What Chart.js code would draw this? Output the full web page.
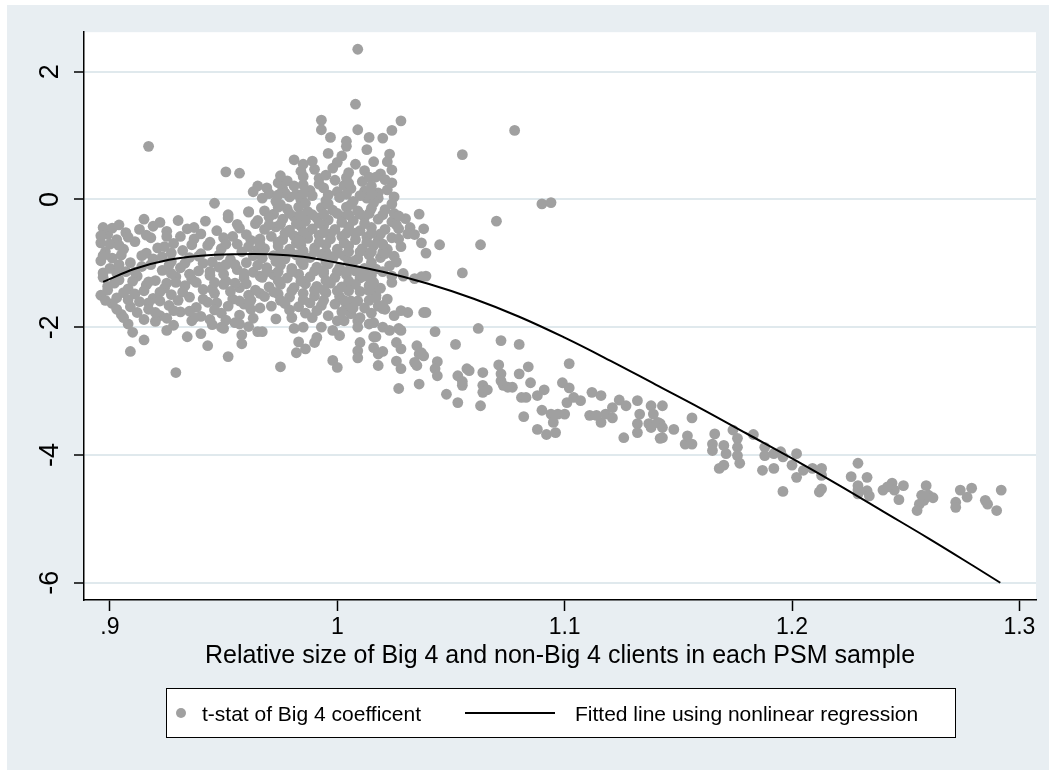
<!DOCTYPE html>
<html>
<head>
<meta charset="utf-8">
<script src="https://cdn.jsdelivr.net/npm/chart.js@4.4.1/dist/chart.umd.min.js"></script>
<style>
  html, body { margin: 0; padding: 0; background: #fff; }
  #wrap { position: absolute; left: 7px; top: 5px; width: 1042px; height: 765px; }
</style>
</head>
<body>
<div id="wrap"><canvas id="psmChart" width="1042" height="765"></canvas></div>
<script>
// t-stat of the Big 4 coefficient, one point per PSM sample: [relative size, t-stat]
var leftCluster = [
  [.897,-.44],[.904,-.40],[.915,-.31],[.922,-.36],[.930,-.33],[.942,-.34],[.952,-.29],[.961,-.20],
  [.899,-.55],[.907,-.52],[.913,-.47],[.925,-.50],[.934,-.46],[.947,-.49],[.957,-.45],[.964,-.38],
  [.896,-.68],[.903,-.63],[.911,-.66],[.918,-.60],[.928,-.69],[.937,-.62],[.944,-.67],[.954,-.58],[.962,-.64],
  [.898,-.82],[.906,-.78],[.916,-.84],[.921,-.76],[.932,-.80],[.940,-.85],[.949,-.77],[.958,-.82],[.965,-.79],
  [.896,-.96],[.901,-.92],[.909,-.99],[.919,-.93],[.927,-.97],[.935,-.91],[.945,-.98],[.953,-.94],[.960,-.99],
  [.900,-1.08],[.907,-1.13],[.914,-1.05],[.923,-1.11],[.931,-1.07],[.939,-1.12],[.948,-1.06],[.956,-1.10],[.963,-1.14],
  [.897,-1.22],[.904,-1.26],[.912,-1.20],[.920,-1.27],[.929,-1.21],[.936,-1.25],[.944,-1.19],[.951,-1.28],[.959,-1.23],[.966,-1.20],
  [.899,-1.36],[.908,-1.40],[.916,-1.34],[.924,-1.39],[.933,-1.35],[.941,-1.41],[.950,-1.33],[.957,-1.38],[.964,-1.42],
  [.896,-1.50],[.903,-1.54],[.911,-1.48],[.919,-1.55],[.927,-1.49],[.935,-1.53],[.946,-1.47],[.954,-1.56],[.961,-1.50],
  [.901,-1.63],[.909,-1.68],[.917,-1.62],[.926,-1.66],[.938,-1.69],[.943,-1.61],[.952,-1.67],[.959,-1.64],[.966,-1.70],
  [.905,-1.80],[.912,-1.77],[.922,-1.82],[.931,-1.76],[.940,-1.83],[.949,-1.78],[.957,-1.81],[.963,-1.86],
  [.908,-1.95],[.920,-1.91],[.928,-1.97],[.936,-1.90],[.945,-1.96],[.955,-1.93],[.961,-1.99],
  [.910,-2.08],[.925,-2.05],[.940,-2.10],[.950,-2.02],[.958,-2.12],[.965,-2.07],
  [.909,-2.38],[.915,-2.20],[.929,-2.71],[.934,-2.15],[.943,-2.29],[.952,-2.46],[.958,-2.26],
  [.946,-.06],[.951,.43],[.957,.41],[.952,-.24],[.898,-1.58],[.906,-1.85],[.920,-1.77],[.937,-1.85],[.957,-1.95],[.949,-2.00],
  [.900,-.70],[.914,-.88],[.925,-.58],[.933,-1.00],[.943,-.72],[.955,-1.02],[.910,-1.28],[.922,-1.45],[.938,-1.30],
  [.947,-1.62],[.960,-1.32],[.903,-1.15],[.917,-1.72],[.930,-1.58],[.945,-1.40],[.963,-.88],[.908,-.59],[.927,-.84],
  [.940,-.54],[.956,-.70],[.899,-1.42],[.913,-1.60],[.935,-1.75],[.950,-1.17],[.918,-1.02],[.929,-1.30],[.962,-1.58],
  [.901,-.45],[.919,-.42],[.937,-.44],[.956,-.39],
  [.896,-.57],[.916,-.56],[.931,-.58],[.950,-.60],[.960,-.55],
  [.904,-.72],[.924,-.74],[.936,-.71],[.951,-.70],[.961,-.74],
  [.897,-.88],[.905,-.87],[.923,-.90],[.939,-.89],[.948,-.87],
  [.904,-1.02],[.926,-1.03],[.941,-1.00],[.951,-1.02],[.965,-1.03],
  [.897,-1.15],[.911,-1.14],[.927,-1.16],[.935,-1.17],[.944,-1.13],[.959,-1.16],
  [.902,-1.31],[.917,-1.29],[.925,-1.31],[.946,-1.30],[.955,-1.31],
  [.906,-1.46],[.915,-1.43],[.932,-1.45],[.953,-1.44],[.966,-1.47],
  [.908,-1.57],[.922,-1.59],[.941,-1.56],[.957,-1.59],
  [.903,-1.72],[.928,-1.74],[.946,-1.73],[.962,-1.72],
  [.915,-1.88],[.925,-1.86],[.944,-1.88],[.951,-1.89]
];

var coreCluster = [
  [.984,.44],[.990,.47],[.998,.49],[1.005,.42],[1.012,.45],[1.019,.40],[1.024,.46],
  [.965,.21],[.969,.18],[.974,.26],[.978,.29],[.985,.36],[.992,.33],[.999,.30],[1.004,.34],[1.011,.28],[1.014,.35],[1.017,.35],[1.024,.26],
  [.963,.12],[.970,.09],[.976,.16],[.981,.21],[.988,.14],[.994,.18],[1.000,.12],[1.006,.17],[1.012,.13],[1.018,.10],[1.022,.15],
  [.967,.02],[.973,-.03],[.979,.04],[.984,-.01],[.989,.06],[.995,-.02],[1.001,.03],[1.007,-.03],[1.013,.02],[1.018,.02],[1.025,.04],
  [.961,-.19],[.968,-.18],[.972,-.23],[.978,-.15],[.983,-.12],[.987,-.19],[.993,-.13],[.998,-.17],[1.004,-.12],[1.009,-.18],[1.015,-.14],[1.021,-.16],
  [.965,-.33],[.970,-.28],[.976,-.31],[.981,-.27],[.986,-.34],[.991,-.29],[.996,-.32],[1.002,-.27],[1.007,-.33],[1.012,-.28],[1.018,-.31],[1.024,-.35],[1.030,-.30],
  [.968,-.47],[.973,-.43],[.979,-.48],[.984,-.42],[.989,-.46],[.994,-.41],[.999,-.47],[1.005,-.43],[1.010,-.49],[1.015,-.44],[1.021,-.47],[1.032,-.44],
  [.966,-.62],[.971,-.58],[.976,-.63],[.981,-.57],[.987,-.61],[.992,-.56],[.997,-.62],[1.002,-.58],[1.008,-.63],[1.013,-.59],[1.018,-.64],[1.024,-.60],
  [.968,-.77],[.974,-.73],[.979,-.78],[.984,-.72],[.990,-.76],[.995,-.71],[1.000,-.78],[1.005,-.73],[1.011,-.77],[1.016,-.72],[1.022,-.78],[1.028,-.74],
  [.967,-.92],[.972,-.88],[.977,-.93],[.982,-.87],[.988,-.91],[.993,-.86],[.998,-.92],[1.003,-.88],[1.009,-.93],[1.014,-.87],[1.019,-.91],[1.025,-.89],
  [.969,-1.07],[.975,-1.03],[.980,-1.08],[.985,-1.02],[.991,-1.06],[.996,-1.01],[1.001,-1.07],[1.006,-1.03],[1.012,-1.08],[1.017,-1.09],[1.023,-1.04],
  [.967,-1.22],[.972,-1.18],[.978,-1.23],[.983,-1.17],[.988,-1.21],[.994,-1.16],[.999,-1.22],[1.004,-1.18],[1.010,-1.23],[1.015,-1.19],[1.024,-1.20],[1.029,-1.20],[1.039,-1.20],[1.034,-1.24],
  [.970,-1.37],[.975,-1.33],[.981,-1.38],[.986,-1.32],[.991,-1.36],[.997,-1.31],[1.002,-1.37],[1.008,-1.33],[1.014,-1.35],[1.019,-1.39],
  [.968,-1.52],[.974,-1.48],[.979,-1.53],[.985,-1.47],[.990,-1.51],[.995,-1.46],[1.001,-1.52],[1.006,-1.59],[1.009,-1.59],[1.017,-1.50],[1.018,-1.67],
  [.971,-1.67],[.977,-1.63],[.983,-1.68],[.988,-1.62],[.993,-1.66],[.999,-1.64],[1.004,-1.69],[1.012,-1.70],[1.021,-1.72],
  [.973,-1.87],[.980,-1.85],[.986,-1.78],[.989,-1.85],[.996,-1.82],[1.000,-1.90],[1.003,-1.90],[1.009,-1.90],[1.010,-1.85],[1.014,-1.95],[1.025,-1.82],[1.028,-1.74],[1.031,-1.77],[1.038,-1.77],
  [.982,.08],[.992,.24],[1.003,.22],[1.010,.06],[.986,-.06],[.996,-.07],[1.006,-.08],[1.016,-.05],[.979,-.22],[.989,-.24],[1.000,-.22],[1.010,-.23],[1.020,-.24],
  [.982,-.38],[.992,-.37],[1.002,-.36],[1.012,-.38],[.977,-.53],[.987,-.52],[.997,-.54],[1.008,-.53],[1.019,-.54],[.982,-.68],[.992,-.67],[1.003,-.68],[1.013,-.67],
  [.979,-.83],[.990,-.82],[1.000,-.84],[1.010,-.82],[1.020,-.83],[.985,-.97],[.995,-.98],[1.005,-.97],[1.015,-.99],[.980,-1.13],[.990,-1.12],[1.000,-1.13],[1.010,-1.14],[1.020,-1.13],
  [.985,-1.28],[.995,-1.27],[1.005,-1.28],[1.015,-1.27],[.980,-1.43],[.990,-1.42],[1.000,-1.43],[1.010,-1.44],[.973,-.97],[.970,-.40],[.974,-.12],[.977,.10],[.966,-.70],
  [.969,-1.13],[.972,-1.45],[.975,-1.58],[1.008,-1.12],[1.012,-1.20],[1.016,-1.30],[1.015,-1.38],[1.006,-1.79],[1.007,-1.70],[1.020,-1.71],
  [.975,.37],[.985,.23],[.995,.38],[1.005,.25],[1.015,.21],[1.021,.31],
  [.974,.07],[.985,.09],[.996,.07],[1.004,.08],[1.015,.08],[1.024,-.07],
  [.975,-.08],[.984,-.25],[.994,-.23],[1.005,-.24],[1.014,-.22],[1.025,-.22],
  [.975,-.39],[.985,-.53],[.994,-.52],[1.004,-.53],[1.015,-.53],[1.026,-.40],
  [.974,-.67],[.985,-.81],[.995,-.83],[1.005,-.82],[1.015,-.82],[1.027,-.62],
  [.975,-.84],[.984,-.97],[.994,-1.12],[1.004,-1.13],[1.015,-1.12],[1.026,-.98],
  [.974,-1.13],[.984,-1.28],[.994,-1.42],[1.005,-1.43],[1.014,-1.43],[1.024,-1.30],
  [.974,-1.27],[.985,-1.57],[.994,-1.58],[1.003,-1.58],[1.014,-1.58],[1.022,-1.56],
  [.979,-1.73],[.991,-1.74],[1.002,-1.76],[1.015,-1.78],[.983,-.65],[.996,-.88],[1.007,-.97],[1.020,-.70]
];

var upperTail = [
  [1.009,2.35],[1.008,1.49],[.917,.83],[.993,1.24],[.993,1.09],[.997,.97],[1.004,.91],[1.004,.83],[1.009,1.09],[1.014,.97],
  [1.020,.96],[1.024,1.08],[1.028,1.23],[1.013,.78],[1.023,.71],[1.022,.59],[1.016,.59],[1.008,.55],[1.002,.68],[1.000,.58],
  [.989,.60],[.985,.55],[.981,.62],[.996,.72],[1.055,.70],[1.078,1.08],[1.090,-.07],[1.094,-.05],[1.070,-.34]
];

var lowerSpread = [
  [.975,-2.62],[.967,-2.07],[.983,-2.23],[.982,-2.40],[.986,-2.34],[.981,-2.02],[.985,-2.00],[.991,-2.16],[.990,-2.24],[.993,-2.00],
  [.998,-2.05],[1.001,-2.13],[.998,-2.52],[1.000,-2.63],[1.009,-2.00],[1.010,-2.24],[1.009,-2.37],[1.009,-2.48],[1.016,-2.15],[1.016,-2.32],
  [1.018,-2.42],[1.020,-2.38],[1.018,-2.60],[1.016,-1.93],[1.017,-1.54],[1.020,-1.66],[1.020,-2.00],[1.023,-2.05],[1.027,-2.02],[1.017,-2.15],
  [1.026,-2.24],[1.028,-2.34],[1.035,-2.29],[1.036,-2.42],[1.034,-2.55],[1.035,-2.60],[1.037,-2.40],[1.026,-2.53],[1.028,-2.65],[1.027,-2.96],
  [1.036,-2.89],[1.028,-2.05],
  [1.027,-.26],[1.036,-.23],[1.038,-.46],[1.027,-.46],[1.031,-.54],[1.034,-.55],[1.037,-.68],[1.039,-.84],[1.021,-.85],[1.045,-.71],
  [1.063,-.71],[1.029,-1.16],[1.037,-1.21],[1.055,-1.15],
  [1.039,-1.77],[1.043,-2.07],[1.062,-2.02],[1.052,-2.27],[1.072,-2.21],[1.080,-2.27],[1.038,-2.45],[1.044,-2.54],[1.043,-2.65],[1.044,-2.76],
  [1.048,-3.05],[1.053,-3.18],[1.053,-2.76],[1.057,-2.65],[1.058,-2.68],[1.055,-2.91],[1.055,-2.85],[1.064,-2.71],[1.064,-2.91],[1.064,-3.02],
  [1.066,-2.98],[1.063,-3.23],[1.071,-2.59],[1.072,-2.73],[1.072,-2.84],[1.073,-2.91],[1.075,-2.94],[1.077,-2.94],[1.080,-2.73],[1.084,-2.62],
  [1.085,-2.87],[1.081,-3.10],[1.083,-3.10],[1.082,-3.40],[1.088,-3.07],[1.091,-2.98]
];

var declineBand = [
  [1.090,-3.30],[1.094,-3.36],[1.097,-3.36],[1.095,-3.49],[1.088,-3.60],[1.092,-3.68],[1.096,-3.65],[1.100,-3.36],[1.102,-2.57],[1.099,-2.87],
  [1.102,-2.95],[1.101,-3.18],[1.104,-3.10],[1.107,-3.15],[1.112,-3.02],[1.116,-3.07],[1.111,-3.38],[1.114,-3.38],[1.116,-3.49],[1.118,-3.36],
  [1.121,-3.26],[1.121,-3.42],[1.124,-3.14],[1.127,-3.23],[1.126,-3.73],[1.132,-3.15],[1.133,-3.36],[1.132,-3.51],[1.132,-3.65],[1.137,-3.51],
  [1.138,-3.23],[1.139,-3.36],[1.143,-3.23],[1.142,-3.51],[1.141,-3.49],[1.143,-3.57],[1.142,-3.74],[1.143,-3.73],[1.138,-3.57],
  [1.156,-3.42],[1.148,-3.60],[1.153,-3.83],[1.156,-3.83],[1.154,-3.70],[1.165,-3.83],[1.166,-3.67],[1.170,-3.85],[1.165,-3.93],[1.171,-3.98],
  [1.174,-3.61],[1.176,-3.74],[1.176,-3.88],[1.176,-4.01],[1.177,-4.13],[1.168,-4.21],[1.170,-4.16],[1.183,-3.68],[1.188,-3.88],[1.188,-4.01],
  [1.192,-3.98],[1.195,-3.95],[1.196,-4.03],[1.187,-4.24],[1.192,-4.21],[1.202,-3.98],[1.200,-4.16],[1.205,-4.24],[1.202,-4.35],[1.209,-4.21],
  [1.213,-4.21],[1.213,-4.32],[1.196,-4.57],[1.212,-4.58],[1.213,-4.53],[1.229,-4.13],[1.226,-4.34],[1.233,-4.35],[1.229,-4.48],[1.229,-4.55],
  [1.229,-4.61],[1.233,-4.56],[1.234,-4.64],[1.240,-4.55],[1.244,-4.44],[1.245,-4.55],[1.247,-4.70],[1.249,-4.48],[1.242,-4.50],[1.259,-4.48],
  [1.260,-4.63],[1.258,-4.71],[1.256,-4.77],[1.255,-4.87],[1.262,-4.67],[1.257,-4.63],[1.272,-4.74],[1.272,-4.82],[1.274,-4.55],[1.279,-4.52],
  [1.277,-4.66],[1.285,-4.71],[1.286,-4.77],[1.290,-4.87],[1.292,-4.55]
];

// fitted curve
var fitX = [.897, .911, .926, .940, .955, .970, .985, 1.000, 1.020, 1.040, 1.060, 1.080,
            1.100, 1.120, 1.140, 1.160, 1.180, 1.200, 1.220, 1.240, 1.260, 1.280, 1.2916];
var fitY = [-1.29, -1.086, -.945, -.883, -.859, -.859, -.898, -.992, -1.133, -1.32, -1.555, -1.836,
            -2.164, -2.523, -2.898, -3.273, -3.664, -4.055, -4.461, -4.883, -5.305, -5.742, -6.0];

var xTicks = [.9, 1, 1.1, 1.2, 1.3];
var xTickLabels = ['.9', '1', '1.1', '1.2', '1.3'];
var yTicks = [-6, -4, -2, 0, 2];
var yTickLabels = ['-6', '-4', '-2', '0', '2'];

var seriesLabels = ['t-stat of Big 4 coefficent', 'Fitted line using nonlinear regression'];
var xTitle = 'Relative size of Big 4 and non-Big 4 clients in each PSM sample';

var FONT = '"Liberation Sans", Arial, Helvetica, sans-serif';
var DOT = '#a0a0a0';

var scatterPoints = leftCluster.concat(coreCluster, upperTail, lowerSpread, declineBand)
  .map(function(p) { return {x: p[0], y: p[1]}; });
var fitPoints = fitX.map(function(x, i) { return {x: x, y: fitY[i]}; });

// stata-like background: tinted graph region, white plot region
var stataBackground = {
  id: 'stataBackground',
  beforeDraw: function(chart) {
    var ctx = chart.ctx, a = chart.chartArea;
    ctx.save();
    ctx.fillStyle = '#e8eef2';
    ctx.fillRect(0, 0, chart.width, chart.height);
    ctx.fillStyle = '#ffffff';
    ctx.fillRect(a.left, a.top, a.right - a.left, a.bottom - a.top);
    ctx.restore();
  }
};

// boxed legend under the axis title
var boxedLegend = {
  id: 'boxedLegend',
  afterDraw: function(chart) {
    var ctx = chart.ctx;
    var ds = chart.data.datasets;
    ctx.save();
    ctx.fillStyle = '#ffffff';
    ctx.fillRect(159, 683, 789, 49);
    ctx.strokeStyle = '#000';
    ctx.lineWidth = 1;
    ctx.strokeRect(159.5, 683.5, 789, 49);

    ctx.fillStyle = DOT;
    ctx.beginPath();
    ctx.arc(174, 708, 5, 0, Math.PI * 2);
    ctx.fill();

    ctx.strokeStyle = '#000';
    ctx.lineWidth = 2;
    ctx.beginPath();
    ctx.moveTo(458, 708);
    ctx.lineTo(548, 708);
    ctx.stroke();

    ctx.fillStyle = '#000';
    ctx.font = '21px ' + FONT;
    ctx.textBaseline = 'alphabetic';
    ctx.fillText(ds[1].label, 195, 715.5);
    ctx.fillText(ds[0].label, 568, 715.5);
    ctx.restore();
  }
};

var ctx = document.getElementById('psmChart').getContext('2d');

var psmChart = new Chart(ctx, {
  type: 'scatter',
  data: {
    datasets: [{
      label: seriesLabels[1],
      data: fitPoints,
      showLine: true,
      borderColor: '#000',
      borderWidth: 2,
      pointRadius: 0,
      tension: 0.4,
      fill: false,
      order: 0
    }, {
      label: seriesLabels[0],
      data: scatterPoints,
      backgroundColor: DOT,
      borderWidth: 0,
      pointRadius: 5.4,
      order: 1
    }]
  },
  options: {
    responsive: false,
    devicePixelRatio: 1,
    animation: false,
    layout: { padding: { top: 26, right: 13, bottom: 99, left: 0 } },
    plugins: {
      legend: { display: false },
      tooltip: { enabled: false }
    },
    scales: {
      x: {
        type: 'linear',
        min: 0.8886,
        max: 1.3073,
        afterFit: function(s) { s.height = 71; },
        afterBuildTicks: function(s) { s.ticks = xTicks.map(function(v) { return {value: v}; }); },
        border: { display: true, color: '#000', width: 1.5 },
        grid: { drawOnChartArea: false, drawTicks: true, tickLength: 11, tickColor: '#000', tickWidth: 1.5 },
        ticks: {
          autoSkip: false,
          minRotation: 0,
          maxRotation: 0,
          padding: 3,
          color: '#000',
          font: { family: FONT, size: 23 },
          callback: function(v, i) { return xTickLabels[i]; }
        },
        title: {
          display: true,
          text: xTitle,
          color: '#000',
          padding: 0,
          font: { family: FONT, size: 25, lineHeight: 1.2 }
        }
      },
      y: {
        type: 'linear',
        min: -6.27,
        max: 2.617,
        afterFit: function(s) { s.width = 77; },
        afterBuildTicks: function(s) { s.ticks = yTicks.map(function(v) { return {value: v}; }); },
        border: { display: true, color: '#000', width: 1.5 },
        grid: { color: '#e0e9ed', lineWidth: 2, drawTicks: true, tickLength: 10, tickColor: '#000', tickWidth: 1.5 },
        ticks: {
          autoSkip: false,
          minRotation: 90,
          maxRotation: 90,
          crossAlign: 'center',
          padding: 11,
          color: '#000',
          font: { family: FONT, size: 27 },
          callback: function(v, i) { return yTickLabels[i]; }
        }
      }
    }
  },
  plugins: [stataBackground, boxedLegend]
});
</script>
</body>
</html>
